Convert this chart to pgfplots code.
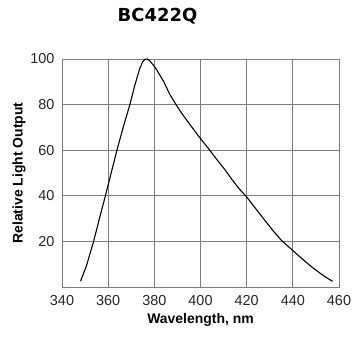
\documentclass[border=0pt]{standalone}
\usepackage{pgfplots}
\pgfplotsset{compat=1.18}
\usepackage{fontspec}
\setmainfont{Liberation Sans}
\newfontfamily\titlefont{DejaVu Sans}
\definecolor{gridgray}{RGB}{125,125,125}
\begin{document}
\begin{tikzpicture}
\begin{axis}[
  name=ax,
  scale only axis,
  width=277bp, height=228bp,
  xmin=340, xmax=460, ymin=0, ymax=100,
  xtick={340,360,...,460},
  ytick={20,40,60,80,100},
  grid=major,
  major grid style={gridgray, line width=0.8pt},
  axis line style={gridgray, line width=0.8pt},
  major tick length=0pt,
  tick style={draw=none},
  /pgf/number format/assume math mode=true,
  ticklabel style={font=\fontsize{14.5}{15}\selectfont, text=black!85},
  xticklabel style={yshift=-5bp},
  yticklabel style={xshift=-4bp},
  xlabel={\textbf{Wavelength, nm}},
  ylabel={\textbf{Relative Light Output}},
  label style={font=\fontsize{14}{15}\selectfont},
  xlabel style={yshift=-1bp},
  ylabel style={yshift=-2bp},
]
\addplot[black, line width=1.1pt, line join=round] coordinates {
(348,2.5)(350.5,9)(353.7,20)(356.2,30)(358.8,40)(361.3,50)(363.8,60)(366.5,70)(369.4,80)(371.5,88.3)(373.6,95.6)(375,98.9)(376,99.9)(376.9,100)(378,99.2)(379.5,97.4)(381,95.3)(382.8,92.2)(384.1,90)(386.7,84.5)(389.4,80)(392,76)(394.6,72.4)(397.3,68.7)(400,65.1)(404,60)(407.3,55.6)(410.7,51.3)(413.6,47.2)(416.8,43)(420,39.5)(422.5,36.2)(425.2,32.7)(427.9,29.2)(431.5,24.6)(435.1,20.4)(440,16)(443.2,13.1)(446.4,10.3)(449.2,8)(452,5.9)(454.6,4.1)(457.2,2.5)
};
\end{axis}
\node[font=\titlefont\bfseries\fontsize{18}{20}\selectfont] at ([shift={(-43bp,42.5bp)}]ax.north) {BC422Q};
\pgfresetboundingbox
\path[use as bounding box] ([shift={(-62bp,-52bp)}]ax.south west) rectangle ([shift={(17bp,59bp)}]ax.north east);
\end{tikzpicture}
\end{document}
